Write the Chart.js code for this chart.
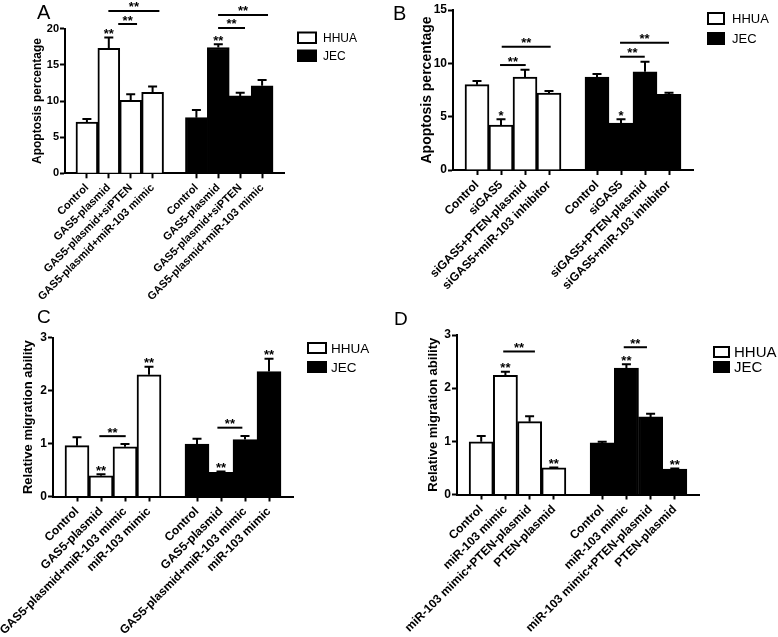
<!DOCTYPE html>
<html>
<head>
<meta charset="utf-8">
<script src="https://cdn.jsdelivr.net/npm/chart.js@4/dist/chart.umd.min.js"></script>
<style>
  body { margin: 0; background: #fff; }
  canvas { position: absolute; }
</style>
</head>
<body>
<canvas id="chartA" width="389" height="300" style="left:0;top:0"></canvas>
<canvas id="chartB" width="389" height="300" style="left:389px;top:0"></canvas>
<canvas id="chartC" width="389" height="337" style="left:0;top:300px"></canvas>
<canvas id="chartD" width="389" height="337" style="left:389px;top:300px"></canvas>
<script>
// ---- panel A ----
const catsA = ["Control", "GAS5-plasmid", "GAS5-plasmid+siPTEN", "GAS5-plasmid+miR-103 mimic"];
const hhuaA = [7.1, 17.3, 10.1, 11.2];
const hhuaErrA = [0.4, 1.5, 0.85, 0.8];
const jecA = [7.7, 17.4, 10.7, 12.1];
const jecErrA = [1.05, 0.45, 0.45, 0.8];
const hhuaStarsA = ["", "**", "", ""];
const jecStarsA = ["", "**", "", ""];
const bracketsA = [[1.98, 4.31, 22.45], [2.43, 3.29, 20.65], [6.99, 9.27, 21.9], [6.99, 8.22, 20.1]];
const yTicksA = [0, 5, 10, 15, 20];

// ---- panel B ----
const catsB = ["Control", "siGAS5", "siGAS5+PTEN-plasmid", "siGAS5+miR-103 inhibitor"];
const hhuaB = [8.0, 4.2, 8.7, 7.2];
const hhuaErrB = [0.35, 0.55, 0.7, 0.2];
const jecB = [8.7, 4.4, 9.2, 7.1];
const jecErrB = [0.3, 0.35, 0.95, 0.15];
const hhuaStarsB = ["", "*", "", ""];
const jecStarsB = ["", "*", "", ""];
const bracketsB = [[2.03, 4.07, 11.56], [1.96, 3.03, 9.84], [6.96, 9.0, 11.93], [6.96, 7.99, 10.62]];
const yTicksB = [0, 5, 10, 15];

// ---- panel C ----
const catsC = ["Control", "GAS5-plasmid", "GAS5-plasmid+miR-103 mimic", "miR-103 mimic"];
const hhuaC = [0.96, 0.39, 0.94, 2.30];
const hhuaErrC = [0.16, 0.03, 0.05, 0.15];
const jecC = [0.99, 0.455, 1.075, 2.36];
const jecErrC = [0.1, 0.015, 0.07, 0.24];
const hhuaStarsC = ["", "**", "", "**"];
const jecStarsC = ["", "**", "", "**"];
const bracketsC = [[1.93, 3.03, 1.14], [6.85, 7.89, 1.30]];
const yTicksC = [0, 1, 2, 3];

// ---- panel D ----
const catsD = ["Control", "miR-103 mimic", "miR-103 mimic+PTEN-plasmid", "PTEN-plasmid"];
const hhuaD = [0.99, 2.24, 1.37, 0.50];
const hhuaErrD = [0.11, 0.07, 0.1, 0.01];
const jecD = [0.97, 2.38, 1.46, 0.48];
const jecErrD = [0.02, 0.07, 0.06, 0.01];
const hhuaStarsD = ["", "**", "", "**"];
const jecStarsD = ["", "**", "", "**"];
const bracketsD = [[1.91, 3.22, 2.69], [6.89, 7.85, 2.77]];
const yTicksD = [0, 1, 2, 3];

const FONT = "'Liberation Sans', Arial, Helvetica, sans-serif";

// empty slot at each end and between the two cell lines
function axisLabels(cats) { return ["", ...cats, "", ...cats, ""]; }
function leftGroup(vals) { return [null, ...vals, null, null, null, null, null, null]; }
function rightGroup(vals) { return [null, null, null, null, null, null, ...vals, null]; }

// error bars, stars, brackets, legend and panel letter
const extras = {
  id: "extras",
  afterDatasetsDraw(chart, args, opts) {
    const ctx = chart.ctx;
    const xs = chart.scales.x, ys = chart.scales.y;
    ctx.save();
    ctx.strokeStyle = "#000";
    ctx.fillStyle = "#000";
    ctx.lineWidth = 2;
    ctx.textAlign = "center";
    ctx.textBaseline = "alphabetic";
    ctx.font = "bold " + opts.starSize + "px " + FONT;

    chart.data.datasets.forEach((ds, di) => {
      const meta = chart.getDatasetMeta(di);
      ds.data.forEach((v, i) => {
        if (v == null) return;
        const bar = meta.data[i];
        const top = ys.getPixelForValue(v + ds.errors[i]);
        ctx.beginPath();
        ctx.moveTo(bar.x, bar.y);
        ctx.lineTo(bar.x, top);
        ctx.moveTo(bar.x - 4.5, top);
        ctx.lineTo(bar.x + 4.5, top);
        ctx.stroke();
        if (ds.stars[i]) ctx.fillText(ds.stars[i], bar.x, top + 0.5);
      });
    });

    opts.brackets.forEach(([a, b, v]) => {
      const x1 = xs.getPixelForValue(a), x2 = xs.getPixelForValue(b);
      const y = ys.getPixelForValue(v);
      ctx.beginPath();
      ctx.moveTo(x1, y);
      ctx.lineTo(x2, y);
      ctx.stroke();
      ctx.fillText("**", (x1 + x2) / 2, y + 0.5);
    });

    // legend
    const lg = opts.legend;
    ctx.textAlign = "left";
    ctx.textBaseline = "middle";
    ctx.font = lg.size + "px " + FONT;
    chart.data.datasets.forEach((ds, di) => {
      const by = lg.y + di * lg.step;
      ctx.fillStyle = ds.backgroundColor;
      ctx.fillRect(lg.x, by, lg.w, lg.h);
      ctx.strokeRect(lg.x, by, lg.w, lg.h);
      ctx.fillStyle = "#000";
      ctx.fillText(ds.label, lg.textX, by + lg.h / 2 + 1);
    });

    // panel letter
    const lt = opts.letter;
    ctx.textBaseline = "alphabetic";
    ctx.font = lt.size + "px " + FONT;
    ctx.fillText(lt.text, lt.x, lt.y);
    ctx.restore();
  }
};

function makePanel(id, p) {
  const labels = axisLabels(p.cats);
  const ctx = document.getElementById(id).getContext("2d");
  return new Chart(ctx, {
    type: "bar",
    data: {
      labels,
      datasets: [
        {
          label: "HHUA",
          data: leftGroup(p.hhua),
          errors: leftGroup(p.hhuaErr),
          stars: leftGroup(p.hhuaStars),
          backgroundColor: "#ffffff",
          borderColor: "#000",
          borderWidth: 2,
          borderSkipped: "bottom",
          barPercentage: 1,
          categoryPercentage: 1,
          grouped: false
        },
        {
          label: "JEC",
          data: rightGroup(p.jec),
          errors: rightGroup(p.jecErr),
          stars: rightGroup(p.jecStars),
          backgroundColor: "#000000",
          borderColor: "#000",
          borderWidth: 2,
          borderSkipped: "bottom",
          barPercentage: 1,
          categoryPercentage: 1,
          grouped: false
        }
      ]
    },
    options: {
      responsive: false,
      animation: false,
      events: [],
      layout: { padding: { top: p.area.top, right: 389 - p.area.right, left: 0, bottom: 0 } },
      scales: {
        x: {
          type: "category",
          offset: false,
          afterFit: s => { s.height = p.height - p.area.bottom; },
          border: { color: "#000", width: 2 },
          grid: {
            offset: false,
            drawOnChartArea: false,
            tickLength: 5,
            tickWidth: 2,
            tickColor: c => labels[c.index] ? "#000" : "rgba(0,0,0,0)"
          },
          ticks: {
            autoSkip: false,
            minRotation: 45,
            maxRotation: 45,
            padding: 3,
            color: "#000",
            font: { family: FONT, size: p.tickSize, weight: "bold" }
          }
        },
        y: {
          min: p.yTicks[0],
          max: p.yTicks[p.yTicks.length - 1],
          afterFit: s => { s.width = p.area.left; },
          border: { color: "#000", width: 2 },
          grid: { drawOnChartArea: false, tickLength: 5, tickWidth: 2, tickColor: "#000" },
          ticks: {
            stepSize: p.yTicks[1] - p.yTicks[0],
            padding: 1,
            color: "#000",
            font: { family: FONT, size: p.tickSize, weight: "bold" }
          },
          title: {
            display: true,
            text: p.yTitle,
            color: "#000",
            padding: { top: p.titleX - p.titleSize * 0.6, bottom: 0 },
            font: { family: FONT, size: p.titleSize, weight: "bold" }
          }
        }
      },
      plugins: {
        legend: { display: false },
        tooltip: { enabled: false },
        extras: {
          brackets: p.brackets,
          starSize: 13,
          legend: p.legend,
          letter: p.letter
        }
      }
    },
    plugins: [extras]
  });
}

makePanel("chartA", {
  cats: catsA, hhua: hhuaA, hhuaErr: hhuaErrA, jec: jecA, jecErr: jecErrA,
  hhuaStars: hhuaStarsA, jecStars: jecStarsA, brackets: bracketsA, yTicks: yTicksA,
  yTitle: "Apoptosis percentage", titleSize: 12, titleX: 38, tickSize: 11, height: 300,
  area: { left: 65, top: 28.7, right: 284, bottom: 173.3 },
  legend: { x: 298, y: 32.5, w: 18, h: 10.5, step: 18, textX: 323, size: 12 },
  letter: { text: "A", x: 37, y: 19, size: 20 }
});

makePanel("chartB", {
  cats: catsB, hhua: hhuaB, hhuaErr: hhuaErrB, jec: jecB, jecErr: jecErrB,
  hhuaStars: hhuaStarsB, jecStars: jecStarsB, brackets: bracketsB, yTicks: yTicksB,
  yTitle: "Apoptosis percentage", titleSize: 14, titleX: 38, tickSize: 12, height: 300,
  area: { left: 64, top: 10, right: 304, bottom: 170 },
  legend: { x: 319, y: 13, w: 16, h: 11, step: 20, textX: 343, size: 13 },
  letter: { text: "B", x: 4, y: 20, size: 20 }
});

makePanel("chartC", {
  cats: catsC, hhua: hhuaC, hhuaErr: hhuaErrC, jec: jecC, jecErr: jecErrC,
  hhuaStars: hhuaStarsC, jecStars: jecStarsC, brackets: bracketsC, yTicks: yTicksC,
  yTitle: "Relative migration ability", titleSize: 13, titleX: 28, tickSize: 12, height: 337,
  area: { left: 53, top: 37.7, right: 293, bottom: 196.5 },
  legend: { x: 308, y: 43, w: 18, h: 10, step: 19, textX: 331, size: 13.5 },
  letter: { text: "C", x: 37, y: 23, size: 19 }
});

makePanel("chartD", {
  cats: catsD, hhua: hhuaD, hhuaErr: hhuaErrD, jec: jecD, jecErr: jecErrD,
  hhuaStars: hhuaStarsD, jecStars: jecStarsD, brackets: bracketsD, yTicks: yTicksD,
  yTitle: "Relative migration ability", titleSize: 13, titleX: 44, tickSize: 12, height: 337,
  area: { left: 68, top: 35, right: 310, bottom: 194.5 },
  legend: { x: 325, y: 47, w: 15, h: 10, step: 15, textX: 345, size: 15 },
  letter: { text: "D", x: 5, y: 25, size: 19 }
});
</script>
</body>
</html>
